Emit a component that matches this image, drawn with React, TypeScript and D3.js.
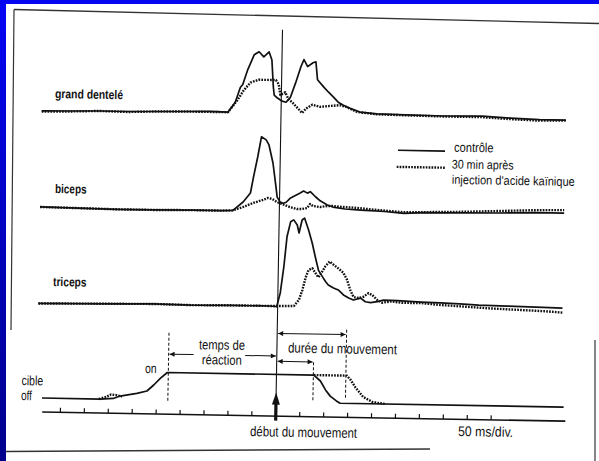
import * as d3 from "d3";
import { useEffect, useRef } from "react";

// time in ms, relative to movement onset; amplitude = deflection
const gdSolid = [
  [-500, -2], [-440, -1.5], [-380, -1], [-320, -1], [-260, -0.5], [-200, 0], [-150, 0.5], [-111, 0],
  [-96, 10], [-86, 25], [-81, 28], [-71, 43], [-58, 58], [-48, 61], [-38, 56], [-27, 61], [-21, 53],
  [-17, 26], [-15, 18], [-8, 15], [2, 12], [10, 11], [19, 16], [29, 30], [40, 47], [46, 54], [54, 47],
  [65, 51], [71, 52], [75, 34], [88, 27], [98, 22], [109, 17], [119, 12], [130, 9], [144, 6], [165, 2.5],
  [200, 1], [260, 0.5], [340, 0], [420, 0.5], [480, -1], [540, -2], [595, -2],
];
const gdDotted = [
  [-500, -2.5], [-440, -2], [-380, -1], [-320, -1.5], [-260, -0.5], [-200, 0], [-150, 0], [-111, 0],
  [-92, 12], [-79, 22], [-65, 30], [-48, 33], [-29, 33], [-12, 33], [-6, 29], [-2, 18], [8, 21], [15, 14],
  [23, 11], [33, 6], [44, 0.5], [52, 5], [65, 9], [81, 7], [102, 8], [123, 9], [138, 7], [159, 2.5],
  [200, 0.5], [260, 0], [340, -0.5], [420, -0.5], [480, -2], [540, -3], [595, -2.5],
];
const bicepsSolid = [
  [-500, 0], [-420, -0.5], [-340, -1], [-260, -1], [-180, -0.5], [-120, -0.5], [-97, 0], [-76, 8.5],
  [-61, 17.6], [-55, 34], [-47, 54], [-40, 74], [-30, 71], [-24, 66], [-15, 48], [-9, 28], [-5, 14],
  [1.5, 9], [8, 8], [14, 9], [22, 13], [33, 16], [43, 18.5], [50, 20.5], [58, 18.5], [64, 20], [75, 15],
  [85, 11], [100, 7], [112, 5], [137, 3.3], [170, 2.5], [220, 1.5], [260, 0], [300, 1], [380, 1.5],
  [460, 2], [540, 3], [595, 3],
];
const bicepsDotted = [
  [-500, 0], [-420, -0.5], [-340, -1], [-260, -1], [-180, -0.5], [-120, -0.5], [-97, 0], [-76, 3.5],
  [-55, 7.7], [-34, 11], [-24, 13], [-15, 12], [-5, 9], [6, 7], [22, 4.3], [37, 2.4], [47, 2.5],
  [58, 3.6], [64, 7.7], [70, 5.7], [85, 4.8], [100, 6], [112, 6], [133, 5.3], [162, 4.6], [200, 3],
  [260, 1], [300, 1.5], [380, 2.5], [460, 4], [540, 5.5], [595, 6],
];
const tricepsSolid = [
  [-500, -1], [-420, -0.5], [-340, 0], [-260, 0.5], [-180, 0], [-100, 0.5], [-15, 0.5], [-2, 0],
  [5, 14], [11.5, 40], [17, 70], [24, 85], [30.5, 87], [38, 82], [42, 74], [48, 87], [53, 89], [62, 77],
  [70, 64], [77, 50], [84, 37], [92, 31], [99, 26], [105, 22.5], [116, 19.6], [126, 17.7], [137, 12.8],
  [148, 9.8], [158, 7.9], [173, 10], [183, 6.4], [194, 5.6], [208, 6.8], [221, 8.4], [250, 8], [300, 7],
  [340, 6.5], [380, 6], [420, 5], [480, 4.5], [540, 4], [595, 3.5],
];
const tricepsDotted = [
  [-500, -1], [-420, -0.5], [-340, 0], [-260, 0.5], [-180, 0], [-100, 0.5], [-15, 0.5], [34, 0.9],
  [44, 7], [51, 17], [57, 29], [63, 37], [71, 39], [78, 34], [84, 30], [92, 36], [98, 41], [107, 46],
  [115, 43], [126, 39], [136, 35], [144, 28], [151, 18], [158, 11], [169, 10], [179, 11.4], [189, 15],
  [197, 13.3], [208, 8.3], [218, 5.7], [236, 7.2], [260, 6], [300, 6], [340, 4.5], [380, 3.5],
  [440, 2], [500, 1], [560, 0], [595, -1],
];
// target signal: 0 = off, 1 = on
const cibleSolid = [
  [-489, 0], [-367, 0], [-340, 0.03], [-326, 0.12], [-291, 0.23], [-270, 0.32], [-256, 0.54],
  [-242, 0.79], [-228, 1], [78, 1], [92, 0.79], [103, 0.47], [113, 0.25], [126, 0.08], [134, 0], [601, 0],
];
const cibleDottedOnset = [[-370, 0], [-355, 0.08], [-345, 0.17], [-333, 0.15], [-322, 0.1]];
const cibleDottedEnd = [
  [78, 1], [147, 1], [155, 0.85], [165, 0.59], [182, 0.24], [201, 0.07], [214, 0.03], [230, 0],
];

const tickTimes = [-450, -400, -350, -300, -250, -200, -150, -100, -50, 0, 50, 100, 150, 200, 250, 300, 350, 400, 450];
const axisExtent = [-488, 605];
const targetOn = -226;
const endControl = 77;
const endKainic = 145;

const ink = "#111";
// no narrow face installed: squeeze Liberation Sans to the scanned widths
const sans = "'Liberation Sans', Arial, sans-serif";

const App = () => {
  const ref = useRef<SVGSVGElement>(null);
  const width = 599;
  const height = 461;

  useEffect(() => {
    drawChart();
  }, []);

  function drawChart() {
    const svg = d3.select(ref.current);
    svg.selectAll("*").remove();

    const defs = svg.append("defs");
    const grad = defs.append("linearGradient").attr("id", "blueEdge")
      .attr("x1", 0).attr("y1", 0).attr("x2", 0).attr("y2", 1);
    grad.append("stop").attr("offset", "0%").attr("stop-color", "#0505f5");
    grad.append("stop").attr("offset", "100%").attr("stop-color", "#00008c");
    defs.append("marker").attr("id", "head")
      .attr("viewBox", "0 0 10 10").attr("refX", 10).attr("refY", 5)
      .attr("markerWidth", 6).attr("markerHeight", 5)
      .attr("orient", "auto-start-reverse")
      .append("path").attr("d", "M0,0 L10,5 L0,10 z").attr("fill", ink);

    // page + scan edges
    svg.append("rect").attr("width", width).attr("height", height).attr("fill", "#fff");
    svg.append("rect").attr("width", width).attr("height", 4).attr("fill", "#0505f0");
    svg.append("rect").attr("width", 6).attr("height", height).attr("fill", "url(#blueEdge)");
    const edge = (x1, y1, x2, y2, w) =>
      svg.append("line").attr("x1", x1).attr("y1", y1).attr("x2", x2).attr("y2", y2)
        .attr("stroke", "#333").attr("stroke-width", w);
    edge(14, 9.5, 599, 23.5, 1.3);
    edge(14, 9.5, 11, 330, 1.2);
    edge(6, 451.5, 430, 449, 1.5);
    edge(595, 340, 595, 461, 1.2);

    // the scanned figure sits slightly rotated
    const g = svg.append("g").attr("transform", "rotate(1, 300, 230)");

    const x = d3.scaleLinear().domain([-450, 450]).range([63.6, 494.4]);
    const yGd = d3.scaleLinear().domain([0, 100]).range([113.5, 13.5]);
    const yBic = d3.scaleLinear().domain([0, 100]).range([211.5, 111.5]);
    const yTri = d3.scaleLinear().domain([0, 100]).range([307, 207]);
    const yCible = d3.scaleLinear().domain([0, 1]).range([402.5, 374.8]);
    const axisY = 416.5;

    const trace = (data, y, dotted) =>
      g.append("path").datum(data)
        .attr("d", d3.line().x((d) => x(d[0])).y((d) => y(d[1])))
        .attr("fill", "none").attr("stroke", ink)
        .attr("stroke-width", dotted ? 2.4 : 1.7)
        .attr("stroke-dasharray", dotted ? "1.7,1.2" : null)
        .attr("stroke-linejoin", "round");

    trace(gdSolid, yGd, false);
    trace(gdDotted, yGd, true);
    trace(bicepsSolid, yBic, false);
    trace(bicepsDotted, yBic, true);
    trace(tricepsSolid, yTri, false);
    trace(tricepsDotted, yTri, true);
    trace(cibleSolid, yCible, false);
    trace(cibleDottedOnset, yCible, true);
    trace(cibleDottedEnd, yCible, true);

    // time axis
    g.append("line").attr("x1", x(axisExtent[0])).attr("x2", x(axisExtent[1]))
      .attr("y1", axisY).attr("y2", axisY).attr("stroke", ink).attr("stroke-width", 1.6);
    g.selectAll(".tick").data(tickTimes).enter().append("line")
      .attr("x1", (d) => x(d)).attr("x2", (d) => x(d))
      .attr("y1", axisY).attr("y2", axisY - 4.5)
      .attr("stroke", ink).attr("stroke-width", 1.2);

    // movement onset line + arrow
    g.append("line").attr("x1", x(0)).attr("x2", x(0)).attr("y1", 30).attr("y2", 400)
      .attr("stroke", ink).attr("stroke-width", 1.1);
    g.append("line").attr("x1", x(0)).attr("x2", x(0)).attr("y1", 404).attr("y2", 421)
      .attr("stroke", ink).attr("stroke-width", 3.2);
    g.append("path")
      .attr("d", `M${x(0) - 4},${405} L${x(0) + 4},${405} L${x(0)},${393} Z`)
      .attr("fill", ink);

    // dashed event markers
    const dashed = (t, y1, y2) =>
      g.append("line").attr("x1", x(t)).attr("x2", x(t)).attr("y1", y1).attr("y2", y2)
        .attr("stroke", ink).attr("stroke-width", 1).attr("stroke-dasharray", "3,2");
    dashed(targetOn, 335, 405);
    dashed(endControl, 362, 400);
    dashed(endKainic, 329, 399);

    const arrow = (t1, t2, y, start, end) =>
      g.append("line").attr("x1", x(t1)).attr("x2", x(t2)).attr("y1", y).attr("y2", y)
        .attr("stroke", ink).attr("stroke-width", 1)
        .attr("marker-start", start ? "url(#head)" : null)
        .attr("marker-end", end ? "url(#head)" : null);
    arrow(targetOn + 2, -174, 356.4, true, false);
    arrow(-66, -2, 356.4, false, true);
    arrow(2, endKainic - 2, 333.8, true, true);
    arrow(2, endControl - 2, 361.7, true, true);

    // legend
    g.append("line").attr("x1", 396.6).attr("x2", 443.6).attr("y1", 148.6).attr("y2", 148.6)
      .attr("stroke", ink).attr("stroke-width", 1.6);
    g.append("line").attr("x1", 395.6).attr("x2", 443.9).attr("y1", 165.2).attr("y2", 165.2)
      .attr("stroke", ink).attr("stroke-width", 2.4).attr("stroke-dasharray", "1.7,1.2");

    const label = (txt, lx, ly, size, bold, w, anchor = "start") =>
      g.append("text").attr("x", lx).attr("y", ly).text(txt)
        .attr("font-family", sans).attr("font-size", size)
        .attr("font-weight", bold ? "bold" : "normal")
        .attr("textLength", w).attr("lengthAdjust", "spacingAndGlyphs")
        .attr("text-anchor", anchor).attr("fill", ink);

    label("grand dentelé", 52.7, 102.3, 12.5, true, 68);
    label("biceps", 54.4, 197.3, 12.5, true, 31.5);
    label("triceps", 54, 290.3, 12.5, true, 33.5);
    label("contrôle", 452.6, 149, 13, false, 39.5);
    label("30 min après", 450.6, 165.8, 12.5, false, 62);
    label("injection d'acide kaïnique", 450.9, 181.2, 12.5, false, 123);
    label("temps de", 224, 350.9, 13.5, false, 46, "middle");
    label("réaction", 224, 365.9, 13.5, false, 40, "middle");
    label("durée du mouvement", 290.1, 352.7, 14, false, 109);
    label("on", 147.5, 375.7, 13.5, false, 11.6);
    label("cible", 24.2, 389.9, 13.5, false, 21.7);
    label("off", 23.9, 404.9, 13.5, false, 11);
    label("début du mouvement", 253.6, 436.9, 14, false, 107);
    label("50 ms/div.", 461.6, 433.2, 14, false, 55);
  }

  return (
    <svg
      ref={ref}
      width={width}
      height={height}
      style={{ position: "absolute", left: 0, top: 0, display: "block" }}
    />
  );
};

export default App;
